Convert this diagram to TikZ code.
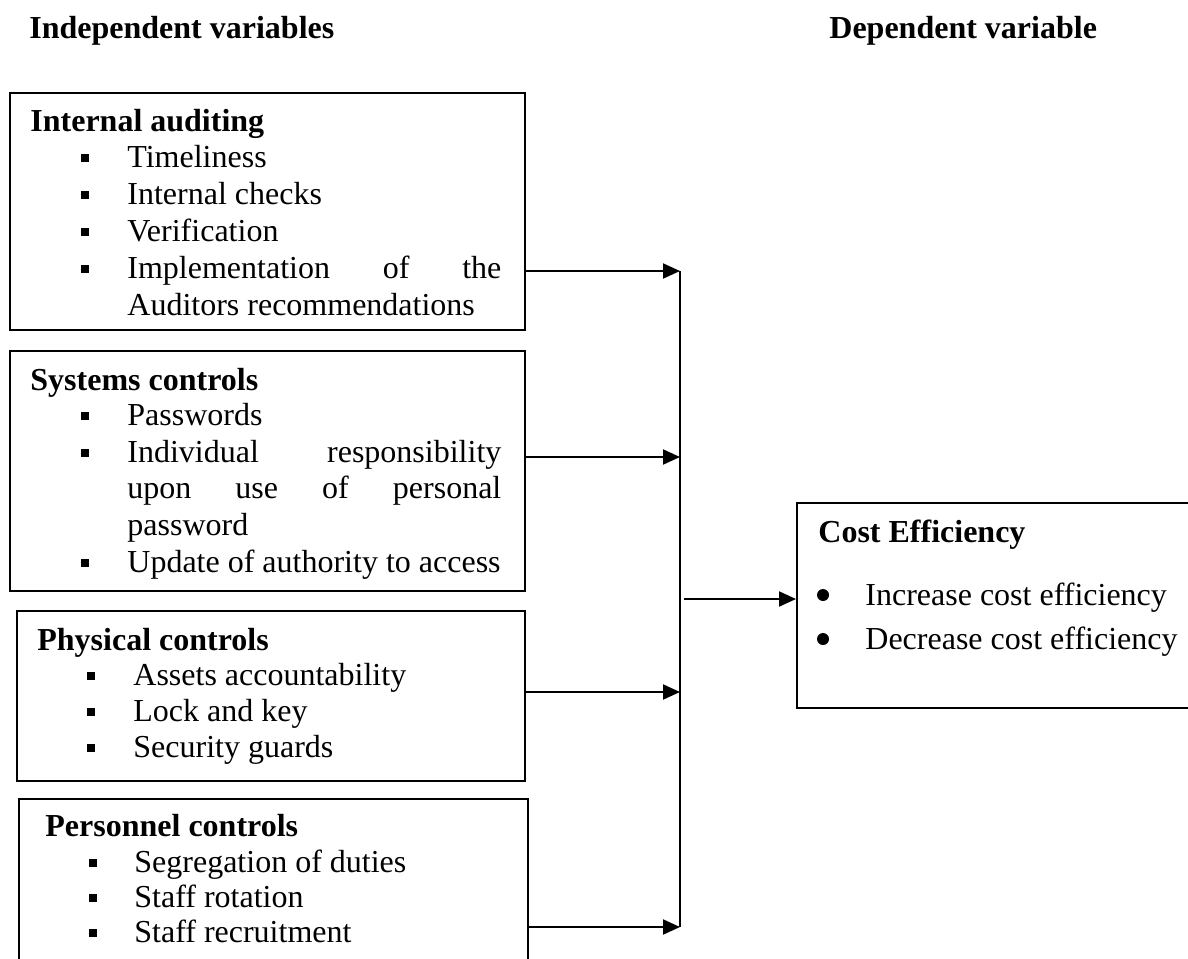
\documentclass[tikz,border=0pt]{standalone}
\usepackage{fontspec}
\setmainfont{Liberation Serif}
\usetikzlibrary{arrows.meta}
\tikzset{
  box/.style={draw, line width=1pt, rectangle, anchor=north west, inner sep=0pt},
  txt/.style={anchor=base west, inner sep=0pt, font=\fontsize{16}{18.5}\selectfont},
  ttl/.style={anchor=base west, inner sep=0pt, font=\fontsize{16}{18.5}\selectfont\bfseries},
  sqb/.style={fill=black, rectangle, minimum size=4.2pt, inner sep=0pt},
  dotb/.style={fill=black, circle, minimum size=6pt, inner sep=0pt},
  arr/.style={line width=1pt, -{Triangle[length=8.5pt,width=7.5pt]}},
  bus/.style={line width=0.8pt},
}
\newcommand\jline[1]{\makebox[187pt][s]{#1}}
\begin{document}
\begin{tikzpicture}[x=0.5pt,y=-0.5pt]
\path[use as bounding box] (0,0) rectangle (1188,958);
\clip (0,0) rectangle (1188,958);

% headers
\node[ttl] (hind) at (29,38) {Independent variables};
\node[ttl] (hdep) at (829,38) {Dependent variable};

% boxes
\node[box, minimum width=257.5pt, minimum height=118.5pt] (ia) at (9,92) {};
\node[box, minimum width=257.5pt, minimum height=120pt] (sc) at (9,350) {};
\node[box, minimum width=254pt, minimum height=85pt] (pc) at (16,610) {};
\node[box, minimum width=254.5pt, minimum height=95pt] (pe) at (18,798) {};
\node[box, minimum width=210pt, minimum height=102.5pt] (ce) at (796,502) {};

% Internal auditing
\node[ttl] (ia-t) at (30,131) {Internal auditing};
\foreach \y/\t [count=\i] in {167/Timeliness, 204/Internal checks, 241/Verification, 278/{\jline{Implementation of the}}, 315/Auditors recommendations}
  {\node[txt] (ia-\i) at (127,\y) {\t};}
\foreach \y [count=\i] in {167,204,241,278}
  {\node[sqb] (ia-b\i) at (85,\y-9) {};}

% Systems controls
\node[ttl] (sc-t) at (30,390) {Systems controls};
\foreach \y/\t [count=\i] in {425/Passwords, 462/{\jline{Individual responsibility}}, 498/{\jline{upon use of personal}}, 535/password, 572/Update of authority to access}
  {\node[txt] (sc-\i) at (127,\y) {\t};}
\foreach \y [count=\i] in {425,462,572}
  {\node[sqb] (sc-b\i) at (85,\y-9) {};}

% Physical controls
\node[ttl] (pc-t) at (37,650) {Physical controls};
\foreach \y/\t [count=\i] in {685/Assets accountability, 721/Lock and key, 757/Security guards}
  {\node[txt] (pc-\i) at (133,\y) {\t};
   \node[sqb] (pc-b\i) at (91,\y-9) {};}

% Personnel controls
\node[ttl] (pe-t) at (45,836) {Personnel controls};
\foreach \y/\t [count=\i] in {872/Segregation of duties, 907/Staff rotation, 942/Staff recruitment}
  {\node[txt] (pe-\i) at (134,\y) {\t};
   \node[sqb] (pe-b\i) at (93,\y-9) {};}

% Cost Efficiency
\node[ttl] (ce-t) at (818,542) {Cost Efficiency};
\foreach \y/\t [count=\i] in {605/Increase cost efficiency, 649/Decrease cost efficiency}
  {\node[txt] (ce-\i) at (865,\y) {\t};
   \node[dotb] (ce-b\i) at (823,\y-10) {};}

% connectors
\coordinate (j1) at (680,271);
\coordinate (j2) at (680,457);
\coordinate (j3) at (680,692);
\coordinate (j4) at (680,927);
\coordinate (jc) at (684,599);
\draw[bus] (j1) -- (j4);
\draw[arr] (ia.east |- j1) -- (j1);
\draw[arr] (sc.east |- j2) -- (j2);
\draw[arr] (pc.east |- j3) -- (j3);
\draw[arr] (pe.east |- j4) -- (j4);
\draw[arr] (jc) -- (ce.west |- jc);
\end{tikzpicture}
\end{document}
